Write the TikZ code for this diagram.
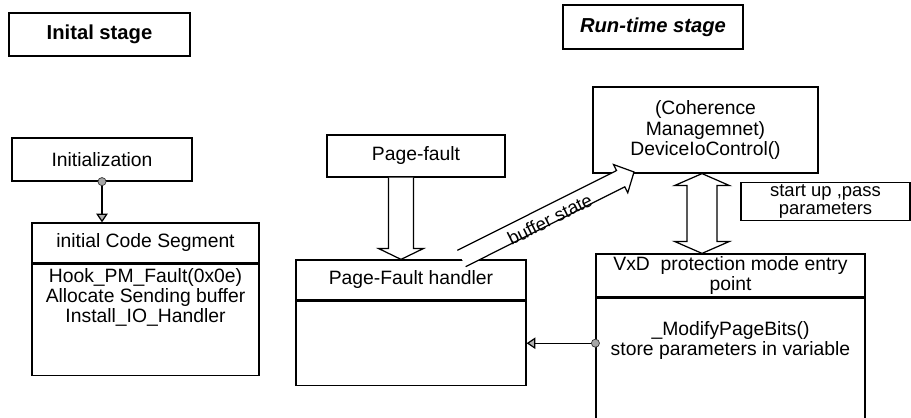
\documentclass[tikz,border=0pt]{standalone}
\usepackage{fontspec}
\setmainfont{Liberation Sans}
\usetikzlibrary{positioning,calc,arrows.meta}

\begin{document}
\begin{tikzpicture}[x=0.02cm,y=-0.02cm,
    box/.style={draw,line width=.7pt,fill=white,inner sep=1pt,align=center,
      font=\fontsize{11pt}{11.5pt}\selectfont},
    stagebox/.style={box,font=\fontsize{11.5pt}{12pt}\selectfont\bfseries},
    dotc/.style={fill=gray!70,draw=black!80,line width=.4pt},
    conn/.style={line width=.7pt,-{Triangle[width=6.5pt,length=5pt,fill=gray!60]}},
    % block arrows: shaft half-width, head half-width, head length
    fatarrow/.style n args={3}{draw,line width=.7pt,fill=white,to path={
      ($(\tikztostart)!#1!90:(\tikztotarget)$)
      -- ($(\tikztotarget)!#3!(\tikztostart)!#1!90:(\tikztotarget)$)
      -- ($(\tikztotarget)!#3!(\tikztostart)!#2!90:(\tikztotarget)$)
      -- (\tikztotarget)
      -- ($(\tikztotarget)!#3!(\tikztostart)!#2!-90:(\tikztotarget)$)
      -- ($(\tikztotarget)!#3!(\tikztostart)!#1!-90:(\tikztotarget)$)
      -- ($(\tikztostart)!#1!-90:(\tikztotarget)$)}},
    twinarrow/.style n args={3}{draw,line width=.7pt,fill=white,to path={
      -- ($(\tikztostart)!#3!(\tikztotarget)!#2!90:(\tikztotarget)$)
      -- ($(\tikztostart)!#3!(\tikztotarget)!#1!90:(\tikztotarget)$)
      -- ($(\tikztotarget)!#3!(\tikztostart)!#1!90:(\tikztotarget)$)
      -- ($(\tikztotarget)!#3!(\tikztostart)!#2!90:(\tikztotarget)$)
      -- (\tikztotarget)
      -- ($(\tikztotarget)!#3!(\tikztostart)!#2!-90:(\tikztotarget)$)
      -- ($(\tikztotarget)!#3!(\tikztostart)!#1!-90:(\tikztotarget)$)
      -- ($(\tikztostart)!#3!(\tikztotarget)!#1!-90:(\tikztotarget)$)
      -- ($(\tikztostart)!#3!(\tikztotarget)!#2!-90:(\tikztotarget)$)
      -- cycle}}]
  \useasboundingbox (0,0) rectangle (911,418);
  \clip (0,0) rectangle (911,418);

  \node[stagebox,minimum width=3.62cm,minimum height=.86cm] (inital) at (99.5,34.5) {Inital stage};
  \node[stagebox,font=\fontsize{11.5pt}{12pt}\selectfont\bfseries\itshape,
        minimum width=3.6cm,minimum height=.88cm] (runtime) at (653,27) {Run-time stage};

  % initial stage
  \node[box,minimum width=3.6cm,minimum height=.86cm] (initz) at (102,159.5) {Initialization};
  \node[box,minimum width=4.54cm,minimum height=.8cm] (icshead) at (145.5,243) {initial Code Segment};
  \node[box,minimum width=4.54cm,minimum height=2.22cm,below=0pt of icshead] (icsbody) {};
  \node[align=center,font=\fontsize{11pt}{11.5pt}\selectfont] (icstext) at ($(icsbody.north)+(0,34)$)
       {Hook\_PM\_Fault(0x0e)\\Allocate Sending buffer\\Install\_IO\_Handler};

  % run-time stage
  \node[box,minimum width=3.56cm,minimum height=.84cm] (pf) at (416,156) {Page-fault};
  \node[box,minimum width=4.6cm,minimum height=.8cm] (pfhhead) at (411,280) {Page-Fault handler};
  \node[box,minimum width=4.6cm,minimum height=1.68cm,below=0pt of pfhhead] (pfhbody) {};
  \node[box,minimum width=4.5cm,minimum height=1.72cm] (coh) at (705.5,130)
       {(Coherence\\Managemnet)\\DeviceIoControl()};
  \node[box,font=\fontsize{10.5pt}{10.5pt}\selectfont,minimum width=3.38cm,minimum height=.74cm]
       (startup) at (825.5,201.5) {start up ,pass\\parameters};
  \node[box,minimum width=5.38cm,minimum height=.86cm] (vxdhead) at (730.5,275.5)
       {VxD\ \ protection mode entry\\point};
  \node[box,minimum width=5.38cm,minimum height=2.6cm,below=0pt of vxdhead] (vxdbody) {};
  \node[align=center,font=\fontsize{11pt}{11.5pt}\selectfont] (vxdtext) at ($(vxdbody.north)+(0,43)$)
       {\_ModifyPageBits()\\store parameters in variable};

  \coordinate (pftail) at ($(pf.south)+(-15,0)$);
  \coordinate (pftip) at (pftail |- pfhhead.north);
  \coordinate (cohend) at ($(coh.south)+(-3.5,0)$);
  \coordinate (vxdend) at (cohend |- vxdhead.north);
  \coordinate (bufftail) at (461.5,258.5);
  \coordinate (bufftip) at (634,172);

  \draw[fatarrow={7.1pt}{12.8pt}{6.2pt}] (pftail) to (pftip);
  \draw[twinarrow={8.5pt}{15.6pt}{6.8pt}] (cohend) to (vxdend);
  \draw[fatarrow={5.2pt}{9pt}{8.5pt}] (bufftail) to (bufftip);
  \path (bufftail) -- (bufftip) node[midway,sloped,yshift=-2.5pt,inner sep=0pt,
        font=\fontsize{10.5pt}{11pt}\selectfont] (bufflabel) {buffer state};

  \draw[conn] (initz.south) -- (initz.south |- icshead.north);
  \filldraw[dotc] (initz.south) circle[radius=2.3pt];
  \draw[conn] (vxdbody.west |- pfhbody.east) -- (pfhbody.east);
  \filldraw[dotc] (vxdbody.west |- pfhbody.east) circle[radius=2.3pt];
\end{tikzpicture}
\end{document}
